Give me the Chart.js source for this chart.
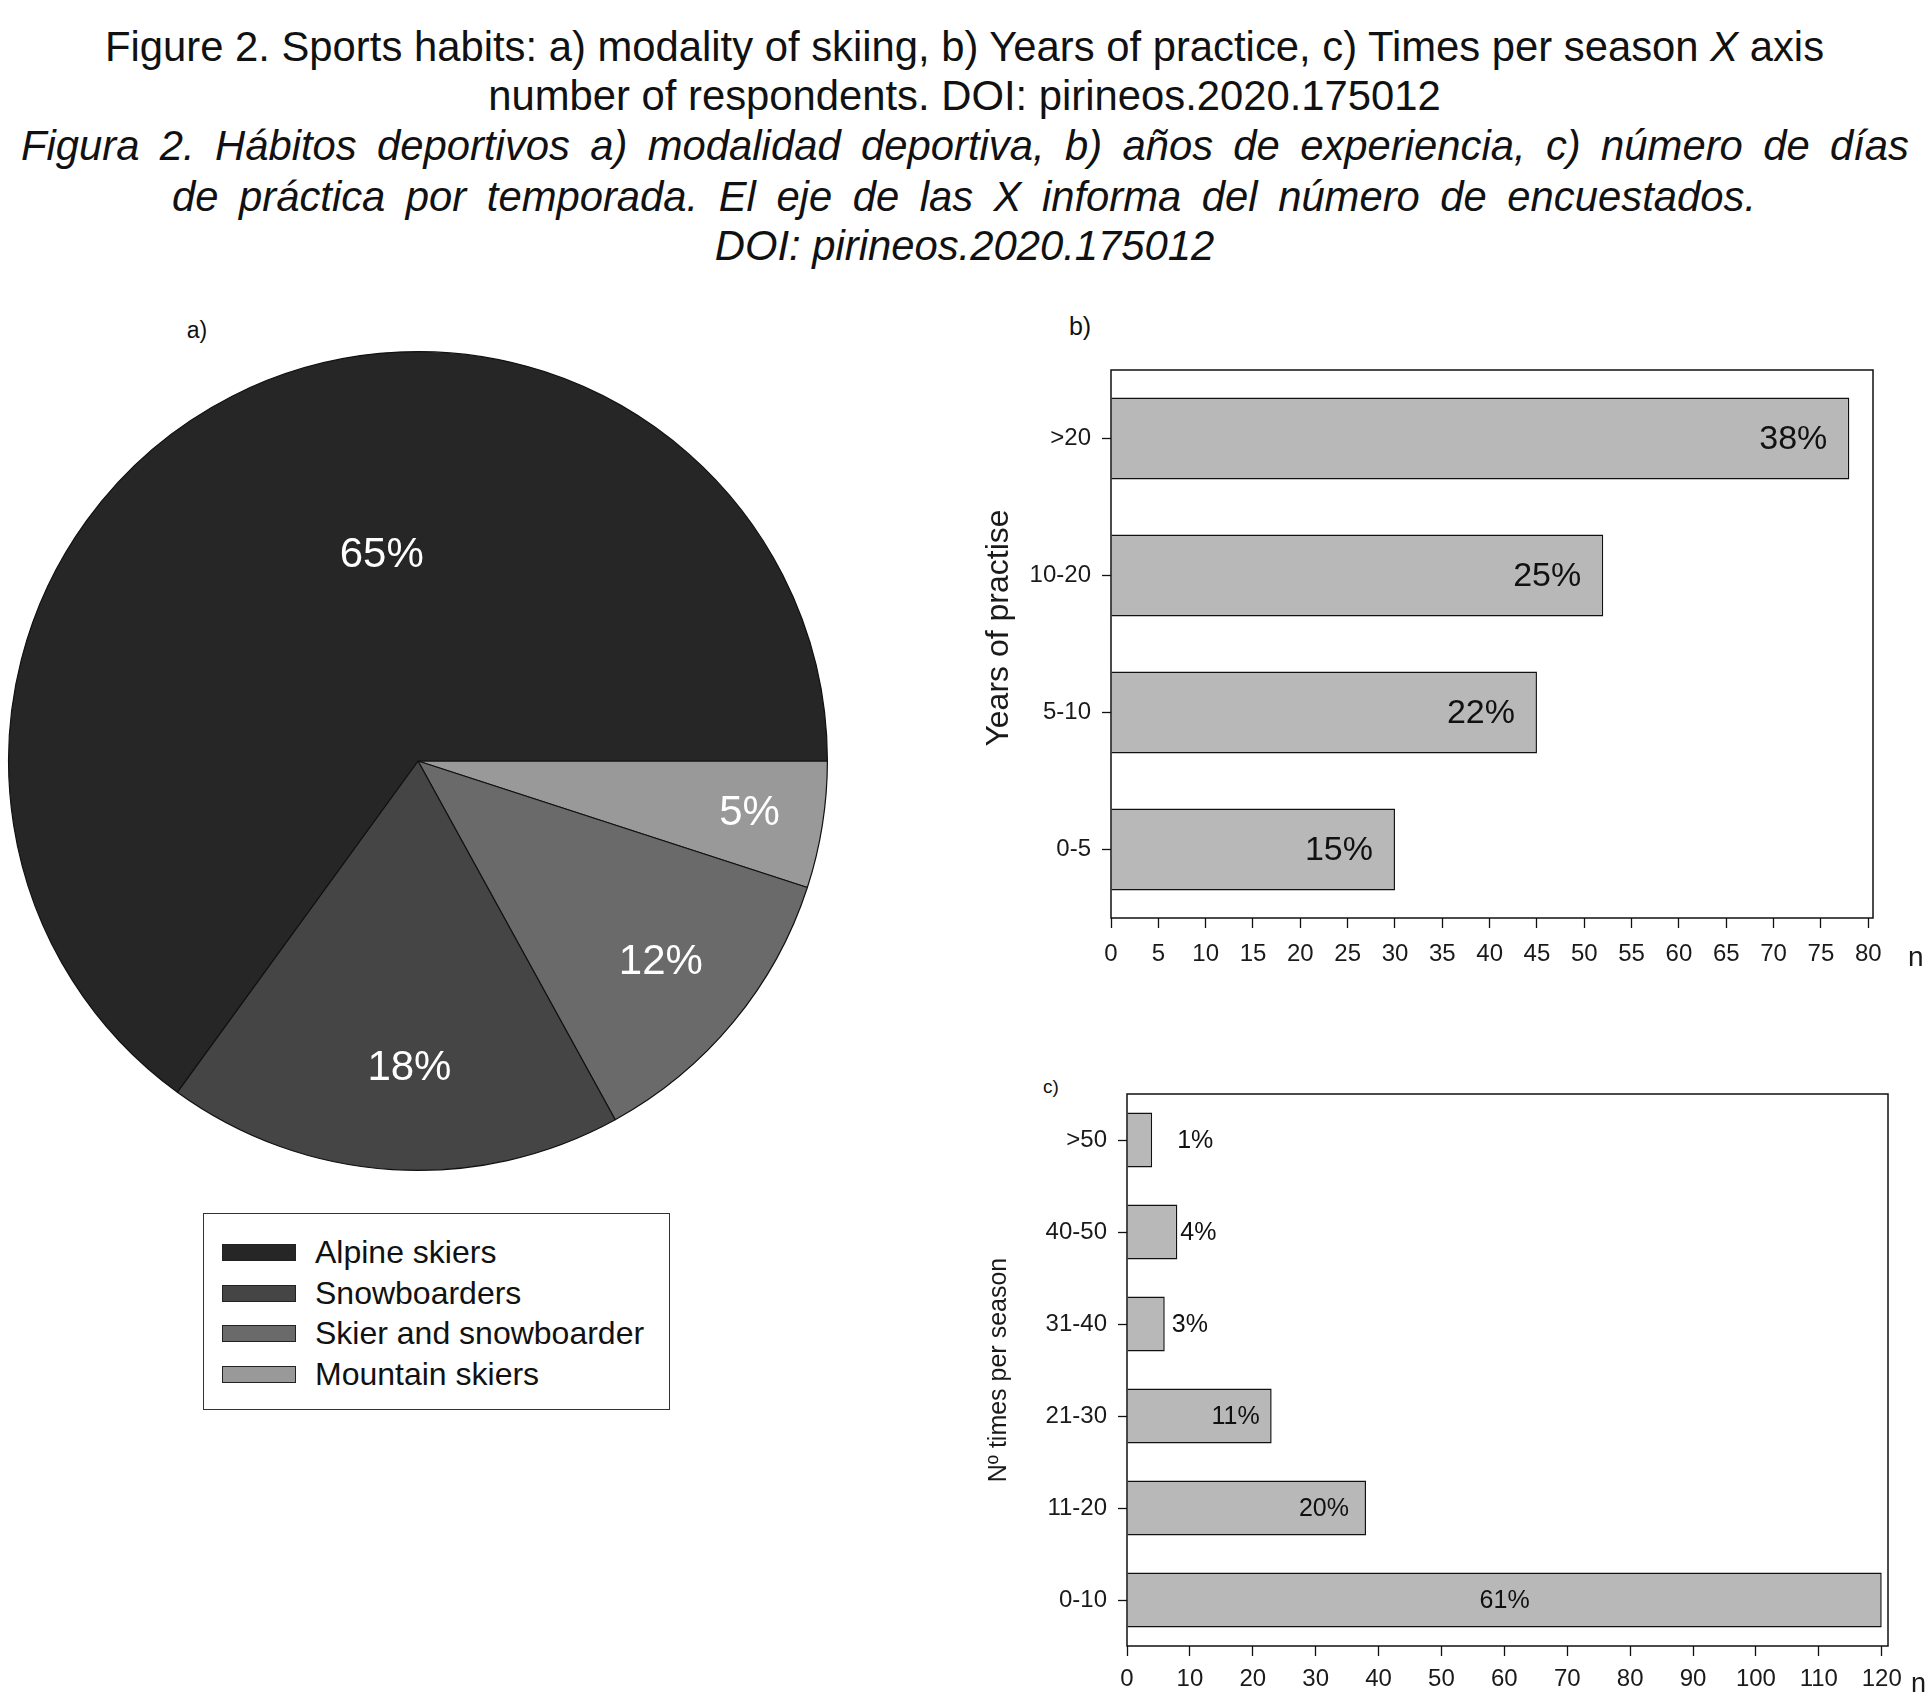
<!DOCTYPE html>
<html lang="en">
<head>
  <meta charset="UTF-8">
  <title>Figure 2 - Sports habits</title>
  <script src="https://cdn.jsdelivr.net/npm/chart.js"></script>
  <style>
    html, body { margin: 0; padding: 0; background: #fff; }
    body { width: 1929px; height: 1698px; position: relative; overflow: hidden;
           font-family: "Liberation Sans", Arial, sans-serif; color: #111; }
    .line { position: absolute; height: 50px; line-height: 50px; font-size: 41.8px; white-space: nowrap; }
    .center { left: 0; width: 1929px; text-align: center; }
    .just { text-align: justify; text-align-last: justify; }
    .it { font-style: italic; }
    .tag { position: absolute; font-size: 23px; line-height: 1; transform: translate(-50%, -50%); }
    .box { position: absolute; }
    #legend { position: absolute; left: 203px; top: 1213px; width: 467px; height: 197px;
              border: 1.5px solid #333; box-sizing: border-box; }
    #legend .row { position: absolute; left: 18px; height: 40px; line-height: 40px; font-size: 32px; color: #111; }
    #legend .sw { display: inline-block; width: 74px; height: 17px; border: 1.5px solid #222;
                  box-sizing: border-box; vertical-align: middle; margin-right: 19px; position: relative; top: -2px; }
  </style>
</head>
<body>
  <!-- caption -->
  <div class="line center" style="top:22px">Figure 2. Sports habits: a) modality of skiing, b) Years of practice, c) Times per season <i>X</i> axis</div>
  <div class="line center" style="top:71px">number of respondents. DOI: pirineos.2020.175012</div>
  <div class="line just it" style="top:121px; left:21px; width:1888px">Figura 2. Hábitos deportivos a) modalidad deportiva, b) años de experiencia, c) número de días</div>
  <div class="line just it" style="top:172px; left:172px; width:1584px">de práctica por temporada. El eje de las X informa del número de encuestados.</div>
  <div class="line center it" style="top:221px">DOI: pirineos.2020.175012</div>

  <div class="tag" style="left:197px; top:330px">a)</div>
  <div class="tag" style="left:1080px; top:326px; font-size:25px">b)</div>
  <div class="tag" style="left:1051px; top:1086px; font-size:19px">c)</div>

  <div class="box" style="left:0; top:343px; width:836px; height:836px"><canvas id="pieChart"></canvas></div>
  <div id="legend"></div>
  <div class="box" style="left:960px; top:330px; width:969px; height:668px"><canvas id="yearsChart"></canvas></div>
  <div class="box" style="left:960px; top:1060px; width:969px; height:638px"><canvas id="seasonChart"></canvas></div>

  <script>
    // a) modality of skiing (% of respondents)
    const modalityLabels = ['Alpine skiers', 'Snowboarders', 'Skier and snowboarder', 'Mountain skiers'];
    const modalityPct    = [65, 18, 12, 5];

    // b) years of practice (n respondents)
    const yearLabels = ['>20', '10-20', '5-10', '0-5'];
    const yearCounts = [78, 52, 45, 30];
    const yearPct    = ['38%', '25%', '22%', '15%'];
    const yearTicks  = [0, 5, 10, 15, 20, 25, 30, 35, 40, 45, 50, 55, 60, 65, 70, 75, 80];
    const yearMax    = 80.5;

    // c) times per season (n respondents)
    const seasonLabels = ['>50', '40-50', '31-40', '21-30', '11-20', '0-10'];
    const seasonCounts = [4, 8, 6, 23, 38, 120];
    const seasonPct    = ['1%', '4%', '3%', '11%', '20%', '61%'];
    const seasonTicks  = [0, 10, 20, 30, 40, 50, 60, 70, 80, 90, 100, 110, 120];
    const seasonMax    = 121;

    const FONT = '"Liberation Sans", Arial, sans-serif';
    const modalityColors = ['#262626', '#454545', '#6a6a6a', '#999999'];
    const barFill = '#b8b8b8';

    Chart.defaults.font.family = FONT;
    Chart.defaults.color = '#1a1a1a';
    Chart.defaults.animation = false;

    // legend (HTML, built from the pie data)
    const legendEl = document.getElementById('legend');
    modalityLabels.forEach((lab, i) => {
      const row = document.createElement('div');
      row.className = 'row';
      row.style.top = (18 + i * 40.7) + 'px';
      row.innerHTML = '<span class="sw" style="background:' + modalityColors[i] + '"></span>' + lab;
      legendEl.appendChild(row);
    });

    // box around the chart area
    const frame = {
      id: 'frame',
      afterDatasetsDraw(chart) {
        const a = chart.chartArea, ctx = chart.ctx;
        ctx.save();
        ctx.strokeStyle = '#111';
        ctx.lineWidth = 1.5;
        ctx.strokeRect(a.left, a.top, a.right - a.left, a.bottom - a.top);
        ctx.restore();
      }
    };

    // percent labels on bars
    const barText = {
      id: 'barText',
      afterDatasetsDraw(chart, args, opts) {
        const ctx = chart.ctx;
        const meta = chart.getDatasetMeta(0);
        ctx.save();
        ctx.font = opts.size + 'px ' + FONT;
        ctx.fillStyle = '#111';
        ctx.textBaseline = 'middle';
        meta.data.forEach((bar, i) => {
          const p = opts.place[i] || opts.place[0];
          const txt = opts.labels[i];
          if (p[0] === 'in') { ctx.textAlign = 'right'; ctx.fillText(txt, bar.x - p[1], bar.y + 1); }
          else if (p[0] === 'out') { ctx.textAlign = 'left'; ctx.fillText(txt, bar.x + p[1], bar.y + 1); }
          else { ctx.textAlign = 'center'; ctx.fillText(txt, (bar.x + bar.base) / 2, bar.y + 1); }
        });
        ctx.restore();
      }
    };

    // "n" unit next to the x tick labels, and the rotated y title
    const axisText = {
      id: 'axisText',
      afterDraw(chart, args, opts) {
        const ctx = chart.ctx, x = chart.scales.x, y = chart.scales.y;
        ctx.save();
        ctx.fillStyle = '#1a1a1a';
        ctx.textBaseline = 'middle';
        ctx.font = opts.unitSize + 'px ' + FONT;
        ctx.textAlign = 'left';
        ctx.fillText('n', x.right + opts.unitDx, x.top + opts.unitDy);
        ctx.translate(y.left + opts.titleX, (y.top + y.bottom) / 2 + opts.titleDy);
        ctx.rotate(-Math.PI / 2);
        ctx.font = opts.titleSize + 'px ' + FONT;
        ctx.textAlign = 'center';
        ctx.fillText(opts.title, 0, 0);
        ctx.restore();
      }
    };

    // white labels inside the pie
    const pieText = {
      id: 'pieText',
      afterDatasetsDraw(chart, args, opts) {
        const ctx = chart.ctx;
        const meta = chart.getDatasetMeta(0);
        const vals = chart.data.datasets[0].data;
        ctx.save();
        ctx.font = opts.size + 'px ' + FONT;
        ctx.fillStyle = '#fff';
        ctx.textAlign = 'center';
        ctx.textBaseline = 'middle';
        meta.data.forEach((arc, i) => {
          const p = opts.place[i];
          const mid = (arc.startAngle + arc.endAngle) / 2 + p[1] * Math.PI / 180;
          const r = arc.outerRadius * p[0];
          ctx.fillText(vals[i] + '%', arc.x + Math.cos(mid) * r, arc.y + Math.sin(mid) * r);
        });
        ctx.restore();
      }
    };

    // a) pie — drawn clockwise from 3 o'clock, so the data goes in reverse order
    new Chart(document.getElementById('pieChart'), {
      type: 'pie',
      data: {
        labels: modalityLabels.slice().reverse(),
        datasets: [{
          data: modalityPct.slice().reverse(),
          backgroundColor: modalityColors.slice().reverse(),
          borderColor: '#111',
          borderWidth: 1.2
        }]
      },
      options: {
        responsive: true,
        maintainAspectRatio: false,
        rotation: 90,
        layout: { padding: 8 },
        plugins: {
          legend: { display: false },
          tooltip: { enabled: false },
          pieText: { size: 42, place: [[0.82, 0], [0.77, 0], [0.75, -2], [0.51, 17]] }
        }
      },
      plugins: [pieText]
    });

    function barOptions(cfg) {
      return {
        indexAxis: 'y',
        responsive: true,
        maintainAspectRatio: false,
        layout: { padding: { top: cfg.padTop, right: cfg.padRight, left: 0, bottom: 0 } },
        plugins: {
          legend: { display: false },
          tooltip: { enabled: false },
          barText: { size: cfg.labelSize, labels: cfg.pct, place: cfg.place },
          axisText: cfg.axis
        },
        scales: {
          x: {
            type: 'linear',
            min: 0, max: cfg.max,
            ticks: { font: { size: 24 }, padding: cfg.xPad, maxRotation: 0, autoSkip: false, color: '#1a1a1a' },
            grid: { display: true, drawOnChartArea: false, drawTicks: true, tickLength: 10, tickColor: '#111', tickWidth: 1.3 },
            border: { display: false },
            afterBuildTicks(s) { s.ticks = cfg.ticks.map(v => ({ value: v })); },
            afterFit(s) { s.height = cfg.xHeight; }
          },
          y: {
            ticks: { font: { size: 24 }, padding: 11, color: '#1a1a1a' },
            grid: { display: true, offset: false, drawOnChartArea: false, drawTicks: true, tickLength: 9, tickColor: '#111', tickWidth: 1.3 },
            border: { display: false },
            afterFit(s) { s.width = cfg.yWidth; }
          }
        }
      };
    }

    // b) years of practice
    new Chart(document.getElementById('yearsChart'), {
      type: 'bar',
      data: {
        labels: yearLabels,
        datasets: [{ data: yearCounts, backgroundColor: barFill, borderColor: '#111', borderWidth: 1.5,
                     barPercentage: 0.6, categoryPercentage: 1 }]
      },
      options: barOptions({
        padTop: 40, padRight: 56, yWidth: 151, xHeight: 80, xPad: 12,
        ticks: yearTicks, max: yearMax, labelSize: 34, pct: yearPct, place: [['in', 22]],
        axis: { title: 'Years of practise', titleSize: 32, titleX: 39, titleDy: -16,
                unitSize: 28, unitDx: 35, unitDy: 40 }
      }),
      plugins: [frame, barText, axisText]
    });

    // c) times per season
    new Chart(document.getElementById('seasonChart'), {
      type: 'bar',
      data: {
        labels: seasonLabels,
        datasets: [{ data: seasonCounts, backgroundColor: barFill, borderColor: '#111', borderWidth: 1.5,
                     barPercentage: 0.6, categoryPercentage: 1 }]
      },
      options: barOptions({
        padTop: 34, padRight: 41, yWidth: 167, xHeight: 52, xPad: 9,
        ticks: seasonTicks, max: seasonMax, labelSize: 25, pct: seasonPct,
        place: [['out', 25], ['out', 3], ['out', 7], ['in', 12], ['in', 17], ['center']],
        axis: { title: 'Nº times per season', titleSize: 25, titleX: 39, titleDy: 0,
                unitSize: 27, unitDx: 23, unitDy: 39 }
      }),
      plugins: [frame, barText, axisText]
    });
  </script>
</body>
</html>
